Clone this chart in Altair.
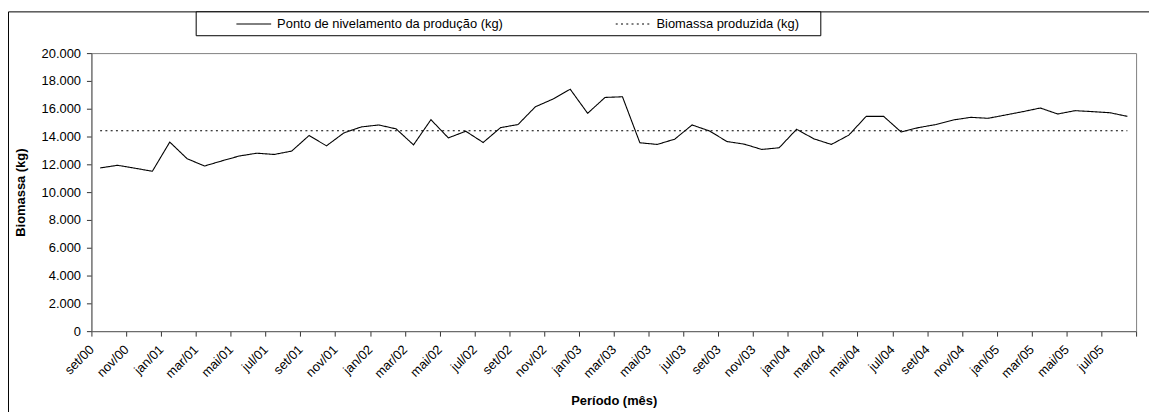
import altair as alt
import pandas as pd

# --- data ---
meses = ["set/00", "out/00", "nov/00", "dez/00",
         "jan/01", "fev/01", "mar/01", "abr/01", "mai/01", "jun/01", "jul/01", "ago/01", "set/01", "out/01", "nov/01", "dez/01",
         "jan/02", "fev/02", "mar/02", "abr/02", "mai/02", "jun/02", "jul/02", "ago/02", "set/02", "out/02", "nov/02", "dez/02",
         "jan/03", "fev/03", "mar/03", "abr/03", "mai/03", "jun/03", "jul/03", "ago/03", "set/03", "out/03", "nov/03", "dez/03",
         "jan/04", "fev/04", "mar/04", "abr/04", "mai/04", "jun/04", "jul/04", "ago/04", "set/04", "out/04", "nov/04", "dez/04",
         "jan/05", "fev/05", "mar/05", "abr/05", "mai/05", "jun/05", "jul/05", "ago/05"]

ponto_nivelamento = [11740, 11930, 11720, 11500, 13600, 12400, 11880, 12250, 12600, 12800,
                     12710, 12950, 14070, 13330, 14260, 14690, 14830, 14550, 13400, 15210,
                     13900, 14380, 13570, 14640, 14860, 16140, 16690, 17400, 15670, 16810,
                     16860, 13550, 13430, 13810, 14830, 14400, 13640, 13450, 13070, 13190,
                     14520, 13830, 13430, 14100, 15450, 15450, 14330, 14640, 14860, 15190,
                     15380, 15310, 15550, 15790, 16050, 15620, 15860, 15790, 15710, 15450]

biomassa_produzida = 14410

rotulos_x = meses[::2]

serie_1 = "Ponto de nivelamento da produção (kg)"
serie_2 = "Biomassa produzida (kg)"

rows = []
for i, m in enumerate(meses):
    rows.append({"pos": i + 0.5, "mes": m, "valor": ponto_nivelamento[i], "serie": serie_1})
for i, m in enumerate(meses):
    rows.append({"pos": i + 0.5, "mes": m, "valor": biomassa_produzida, "serie": serie_2})
df = pd.DataFrame(rows)

FONT = "Liberation Sans"
W, H = 1052, 280

labels_js = "[" + ",".join("'%s'" % s for s in rotulos_x) + "]"

leg = dict(title=None, orient="none", direction="horizontal",
           legendX=145, legendY=-48, padding=0,
           symbolType="stroke", symbolSize=1225, symbolStrokeWidth=1.1,
           labelOffset=5, columnPadding=110, labelLimit=0,
           labelFont=FONT, labelFontSize=13, labelColor="#000")

lines = alt.Chart(df).mark_line(strokeWidth=1.1).encode(
    x=alt.X("pos:Q",
            scale=alt.Scale(domain=[0, 60], nice=False, zero=False),
            axis=alt.Axis(values=list(range(0, 61, 2)),
                          labelExpr=f"datum.value < 60 ? {labels_js}[datum.value/2] : ''",
                          labelAngle=-45, labelAlign="right", labelBaseline="middle",
                          labelPadding=11, tickSize=5, grid=False, labelOverlap=False,
                          title="Período (mês)", titlePadding=14)),
    y=alt.Y("valor:Q",
            scale=alt.Scale(domain=[0, 20000], nice=False),
            axis=alt.Axis(values=list(range(0, 20001, 2000)),
                          labelExpr="replace(format(datum.value, ','), ',', '.')",
                          tickSize=5, labelPadding=6, grid=False, labelOverlap=False,
                          title="Biomassa (kg)", titlePadding=14)),
    color=alt.Color("serie:N",
                    scale=alt.Scale(domain=[serie_1, serie_2], range=["#000000", "#000000"]),
                    legend=alt.Legend(**leg)),
    strokeDash=alt.StrokeDash("serie:N",
                              scale=alt.Scale(domain=[serie_1, serie_2], range=[[1, 0], [2, 3.3]]),
                              legend=alt.Legend(**leg)),
)

one = alt.Data(values=[{"k": 1}])

legend_box = alt.Chart(one).mark_rect(fill="white", stroke="#000", strokeWidth=1).encode(
    x=alt.value(105.5), x2=alt.value(734.5), y=alt.value(-41.5), y2=alt.value(-17.5))

frame_top = alt.Chart(one).mark_rule(color="#000", strokeWidth=1).encode(
    x=alt.value(-83.5), x2=alt.value(1070), y=alt.value(-41.5))
frame_left = alt.Chart(one).mark_rule(color="#000", strokeWidth=1).encode(
    x=alt.value(-83.5), y=alt.value(-41.5), y2=alt.value(370))

chart = alt.layer(frame_top, frame_left, legend_box, lines).properties(
    width=W, height=H,
    autosize=alt.AutoSizeParams(type="none"),
    padding={"left": 84, "top": 44, "right": 13, "bottom": 80},
).configure(background="white").configure_view(
    stroke="#808080", strokeWidth=1
).configure_axis(
    labelFont=FONT, labelFontSize=13, labelColor="#000",
    titleFont=FONT, titleFontSize=13, titleFontWeight="bold", titleColor="#000",
    domainColor="#666666", tickColor="#333333",
)

chart.save("out.html", embed_options={"renderer": "svg", "actions": False})
